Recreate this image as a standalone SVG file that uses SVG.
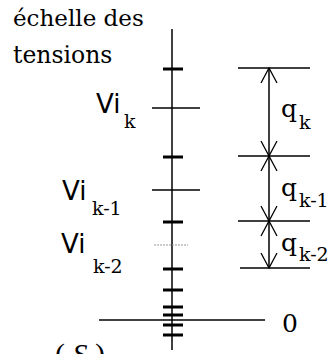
<svg xmlns="http://www.w3.org/2000/svg" width="329" height="354" viewBox="0 0 329 354">
<style>
.ln{stroke:#000;stroke-width:1.5;fill:none}
.tk{stroke:#000;stroke-width:3;fill:none}
.dash{stroke:#999;stroke-width:1;stroke-dasharray:2 1;fill:none}
.ser{font-family:"DejaVu Serif","Liberation Serif",serif;fill:#000}
.san{font-family:"DejaVu Sans","Liberation Sans",sans-serif;fill:#000}
.sub{font-family:"DejaVu Serif","Liberation Serif",serif;font-size:19px;fill:#000}
</style>
<defs>
<marker id="ah" viewBox="-17 -9 18 18" refX="0" refY="0" markerWidth="18" markerHeight="18" markerUnits="userSpaceOnUse" orient="auto-start-reverse">
<path d="M-15,-8 L0,0 L-15,8" stroke="#000" stroke-width="1.3" fill="none"/>
</marker>
</defs>
<g id="title">
<text class="ser" x="13" y="26" font-size="23">échelle des</text>
<text class="ser" x="13" y="63" font-size="23.5">tensions</text>
</g>
<g id="axis">
<line class="ln" x1="172" y1="29" x2="172" y2="350"/>
<g id="ticks">
<line class="tk" x1="163" y1="69" x2="183" y2="69"/>
<line class="tk" x1="163" y1="157" x2="183" y2="157"/>
<line class="tk" x1="163" y1="222" x2="183" y2="222"/>
<line class="tk" x1="163" y1="269" x2="183" y2="269"/>
<line class="tk" x1="163" y1="290" x2="183" y2="290"/>
<line class="tk" x1="163" y1="307" x2="183" y2="307"/>
<line class="tk" x1="163" y1="315" x2="183" y2="315"/>
<line class="tk" x1="163" y1="325" x2="183" y2="325"/>
<line class="tk" x1="163" y1="335" x2="183" y2="335"/>
</g>
<line class="ln" x1="152" y1="108" x2="200" y2="108"/>
<line class="ln" x1="152" y1="190" x2="200" y2="190"/>
<line class="dash" x1="154" y1="245" x2="188" y2="245"/>
<line class="ln" x1="99" y1="320" x2="265" y2="320"/>
</g>
<g id="vi-labels">
<g id="vik"><text class="san" x="96" y="113" font-size="26">Vi</text><text class="sub" x="124" y="128">k</text></g>
<g id="vik1"><text class="san" x="62" y="200" font-size="26">Vi</text><text class="sub" x="92" y="215">k-1</text></g>
<g id="vik2"><text class="san" x="61" y="253" font-size="26">Vi</text><text class="sub" x="93" y="273">k-2</text></g>
</g>
<g id="levels">
<line class="ln" x1="238" y1="68" x2="310" y2="68"/>
<line class="ln" x1="238" y1="156" x2="310" y2="156"/>
<line class="ln" x1="238" y1="221" x2="310" y2="221"/>
<line class="ln" x1="240" y1="268" x2="310" y2="268"/>
</g>
<g id="connectors">
<line class="ln" x1="269" y1="68" x2="269" y2="156" marker-start="url(#ah)" marker-end="url(#ah)"/>
<line class="ln" x1="269" y1="156" x2="269" y2="221" marker-start="url(#ah)" marker-end="url(#ah)"/>
<line class="ln" x1="269" y1="221" x2="269" y2="268" marker-start="url(#ah)" marker-end="url(#ah)"/>
</g>
<g id="q-labels">
<g id="qk"><text class="ser" x="281" y="117" font-size="25">q</text><text class="sub" x="299" y="129">k</text></g>
<g id="qk1"><text class="ser" x="281" y="196" font-size="25">q</text><text class="sub" x="299" y="207">k-1</text></g>
<g id="qk2"><text class="ser" x="281" y="251" font-size="25">q</text><text class="sub" x="299" y="261">k-2</text></g>
</g>
<g id="zero"><text class="ser" x="282" y="332" font-size="25">0</text></g>
<g id="s-label"><text x="55" y="364" font-family="Liberation Serif,serif" font-size="30">( <tspan font-style="italic">S</tspan> )</text></g>
</svg>
